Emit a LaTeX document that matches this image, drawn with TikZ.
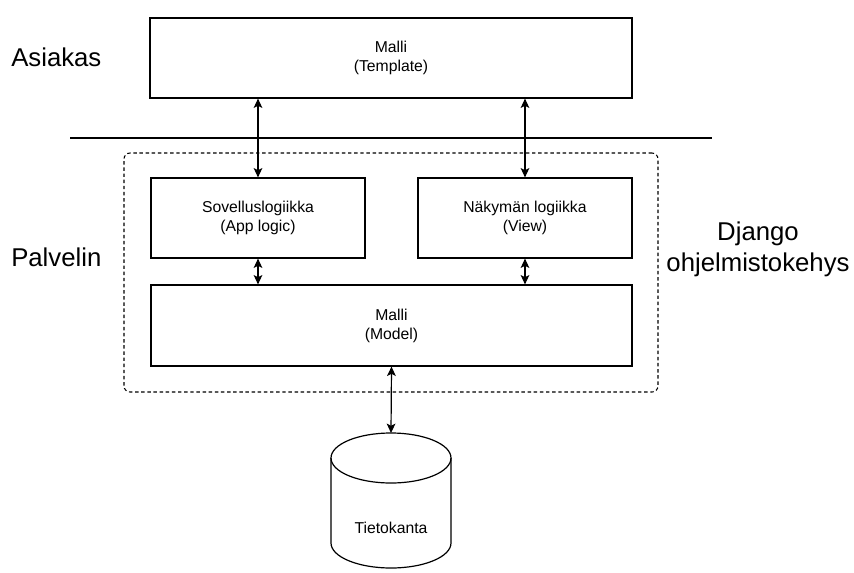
\documentclass[tikz,border=0pt]{standalone}
\usepackage{fontspec}
\setmainfont{Liberation Sans}
\usetikzlibrary{arrows.meta}
\begin{document}
\begin{tikzpicture}[x=0.75pt,y=-0.75pt,
  box/.style={draw,line width=0.9pt,rectangle,inner sep=0pt,align=center,
    font=\fontsize{11.8}{14.3}\selectfont},
  bigtext/.style={inner sep=0pt,align=center,font=\fontsize{19.3}{23.25}\selectfont},
  arr/.style={line width=0.9pt,{Stealth[length=7pt,width=6.5pt,inset=1.6pt]}-{Stealth[length=7pt,width=6.5pt,inset=1.6pt]}},
  frame/.style={draw,line width=0.8pt,dash pattern=on 2.6pt off 2pt,rounded corners=4.5pt,inner sep=0pt}]
\useasboundingbox (0,0) rectangle (854,572);
% labels
\node[bigtext,anchor=west] (asiakas) at (11,57) {Asiakas};
\node[bigtext,anchor=west] (palvelin) at (11,257) {Palvelin};
\node[bigtext] (django) at (758,249) {Django\\ohjelmistokehys};
% separator
\coordinate (sepL) at (70,138);
\coordinate (sepR) at (712,138);
\draw[line width=0.9pt] (sepL) -- (sepR);
% framework frame
\node[frame,minimum width=534*0.75pt,minimum height=239*0.75pt] (fw) at (391,272.5) {};
% boxes
\node[box,minimum width=482*0.75pt,minimum height=80*0.75pt] (tmpl) at (391,58) {Malli\\(Template)};
\node[box,minimum width=214*0.75pt,minimum height=80*0.75pt] (app) at (258,218) {Sovelluslogiikka\\(App logic)};
\node[box,minimum width=214*0.75pt,minimum height=80*0.75pt] (view) at (525,218) {Näkymän logiikka\\(View)};
\node[box,minimum width=481*0.75pt,minimum height=81*0.75pt] (model) at (391.5,325.5) {Malli\\(Model)};
% database cylinder
\draw[line width=0.9pt] (391,458) ellipse [x radius=45pt, y radius=18.75pt];
\draw[line width=0.9pt] (331,458) -- (331,543) arc [start angle=180, end angle=360, x radius=45pt, y radius=18.75pt] -- (451,458);
\node[inner sep=0pt,font=\fontsize{11.8}{14.3}\selectfont] (db) at (391,528) {Tietokanta};
\coordinate (dbtop) at (391,433);
% connectors
\draw[arr] (app.north) -- (app.north |- tmpl.south);
\draw[arr] (view.north) -- (view.north |- tmpl.south);
\draw[arr] (app.south) -- (app.south |- model.north);
\draw[arr] (view.south) -- (view.south |- model.north);
\draw[arr] (model.south) -- (dbtop);
\end{tikzpicture}
\end{document}
